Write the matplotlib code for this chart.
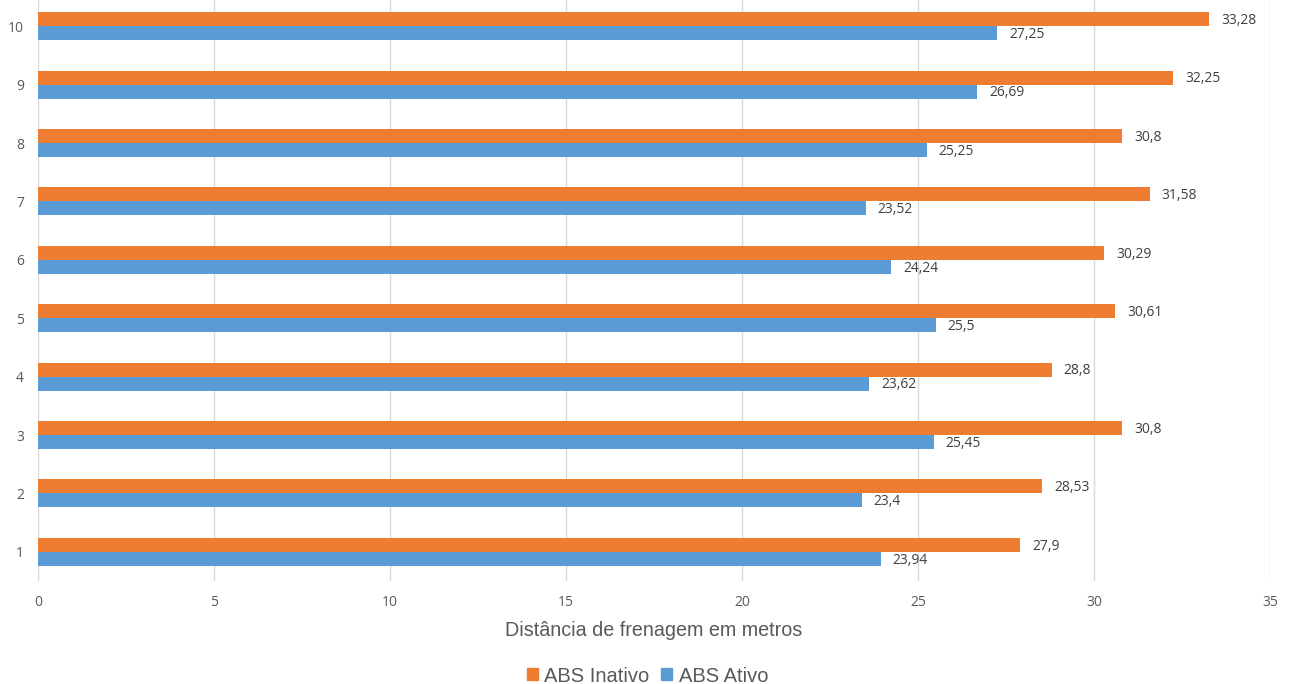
import numpy as np
import matplotlib.pyplot as plt
from matplotlib.patches import Patch

# Distância de frenagem por ensaio
ensaios = ['1', '2', '3', '4', '5', '6', '7', '8', '9', '10']
abs_inativo = [27.9, 28.53, 30.8, 28.8, 30.61, 30.29, 31.58, 30.8, 32.25, 33.28]
abs_ativo = [23.94, 23.4, 25.45, 23.62, 25.5, 24.24, 23.52, 25.25, 26.69, 27.25]

laranja = '#ED7D31'
azul = '#5B9BD5'
cinza = '#595959'

fig = plt.figure(figsize=(12.95, 6.84), dpi=100)
ax = fig.add_axes([38 / 1295, 1 - 581 / 684, 1232 / 1295, 584 / 684])

y = np.arange(len(ensaios))
h = 0.24
b1 = ax.barh(y + h / 2, abs_inativo, height=h, color=laranja, zorder=3)
b2 = ax.barh(y - h / 2, abs_ativo, height=h, color=azul, zorder=3)

def rotulo(v):
    return ('%g' % v).replace('.', ',')

for barras, vals in ((b1, abs_inativo), (b2, abs_ativo)):
    for r, v in zip(barras, vals):
        ax.annotate(rotulo(v), (v, r.get_y() + r.get_height() / 2),
                    xytext=(8.5, -1), textcoords='offset points', va='center',
                    ha='left', fontsize=10, color='#404040', family='Open Sans')

ax.set_xlim(0, 35)
ax.set_ylim(-0.5, len(ensaios) - 0.5)
ax.set_xticks(np.arange(0, 36, 5))
ax.set_yticks(y)
ax.set_yticklabels(ensaios)
ax.grid(axis='x', color='#D9D9D9', linewidth=1, zorder=0)
for s in ['top', 'right', 'bottom', 'left']:
    ax.spines[s].set_visible(False)
ax.tick_params(axis='both', length=0, labelcolor=cinza, labelsize=10)
ax.tick_params(axis='x', pad=10)
ax.tick_params(axis='y', pad=10)
for t in ax.get_xticklabels() + ax.get_yticklabels():
    t.set_family('Open Sans')

ax.set_xlabel('Distância de frenagem em metros', fontsize=14.2, color=cinza,
              family='Liberation Sans', labelpad=8)

handles = [Patch(color=laranja, label='ABS Inativo'), Patch(color=azul, label='ABS Ativo')]
fig.legend(handles=handles, loc='center', bbox_to_anchor=(0.5, 1 - 676 / 684), ncol=2,
           frameon=False, handlelength=0.55, handleheight=0.55, handletextpad=0.3,
           columnspacing=0.6, prop={'family': 'Liberation Sans', 'size': 14.5},
           labelcolor=cinza)

fig.savefig('out.png', dpi=100)
